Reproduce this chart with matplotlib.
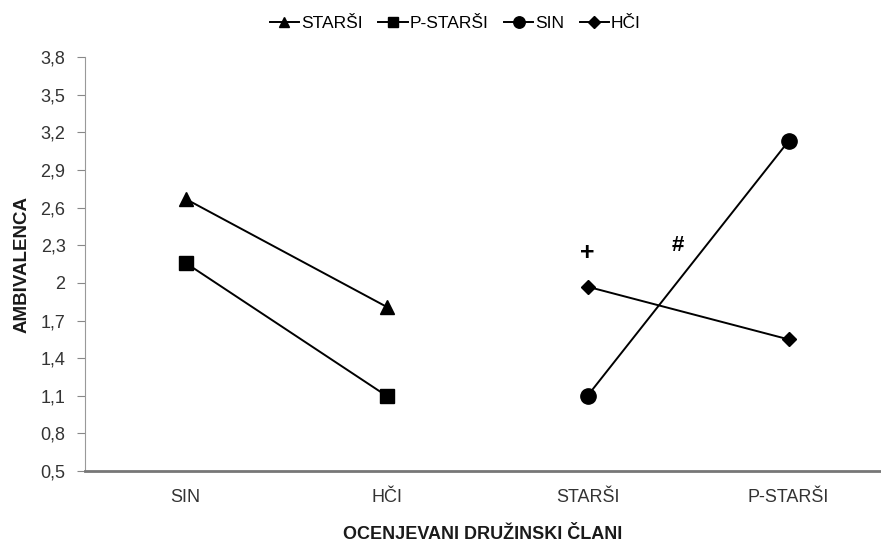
import matplotlib
matplotlib.use('Agg')
import matplotlib.pyplot as plt

plt.rcParams['font.family'] = ['Liberation Sans', 'DejaVu Sans']

kategorije = ['SIN', 'HČI', 'STARŠI', 'P-STARŠI']
starsi = [2.67, 1.81]
p_starsi = [2.16, 1.10]
sin = [1.10, 3.13]
hci = [1.97, 1.55]
y_ticks = [0.5, 0.8, 1.1, 1.4, 1.7, 2.0, 2.3, 2.6, 2.9, 3.2, 3.5, 3.8]
y_labels = ['0,5', '0,8', '1,1', '1,4', '1,7', '2', '2,3', '2,6', '2,9', '3,2', '3,5', '3,8']

fig = plt.figure(figsize=(8.81, 5.44), dpi=100)
ax = fig.add_axes([0.0965, 0.134, 0.9035, 0.761])

ax.plot([0, 1], starsi, '-^', color='black', ms=10, lw=1.4, label='STARŠI')
ax.plot([0, 1], p_starsi, '-s', color='black', ms=10, lw=1.4, label='P-STARŠI')
ax.plot([2, 3], sin, '-o', color='black', ms=11, lw=1.4, label='SIN')
ax.plot([2, 3], hci, '-D', color='black', ms=7.5, lw=1.4, label='HČI')

ax.text(2, 2.24, '+', fontsize=18, fontweight='bold', ha='center', va='center')
ax.text(2.45, 2.30, '#', fontsize=16, fontweight='bold', ha='center', va='center')

ax.set_xlim(-0.5, 3.46)
ax.set_ylim(0.5, 3.8)
ax.set_xticks(range(len(kategorije)))
ax.set_xticklabels(kategorije, fontsize=13, color='#333333')
ax.set_yticks(y_ticks)
ax.set_yticklabels(y_labels, fontsize=13, color='#333333')
ax.tick_params(axis='x', length=0, pad=13)
ax.tick_params(axis='y', direction='out', length=6, color='#888888', pad=8)

ax.spines['top'].set_visible(False)
ax.spines['right'].set_visible(False)
ax.spines['left'].set_color('#999999')
ax.spines['bottom'].set_color('#777777')
ax.spines['bottom'].set_linewidth(2)

ax.set_ylabel('AMBIVALENCA', fontsize=13.5, fontweight='bold', labelpad=7, color='#1a1a1a')
ax.set_xlabel('OCENJEVANI DRUŽINSKI ČLANI', fontsize=13, fontweight='bold', labelpad=14, color='#1a1a1a')

ax.legend(loc='lower center', bbox_to_anchor=(0.465, 1.025), ncol=4, frameon=False,
          fontsize=12.5, handlelength=1.7, handletextpad=0.1, columnspacing=0.9, markerscale=0.75)

plt.savefig('out.png')
plt.close()
